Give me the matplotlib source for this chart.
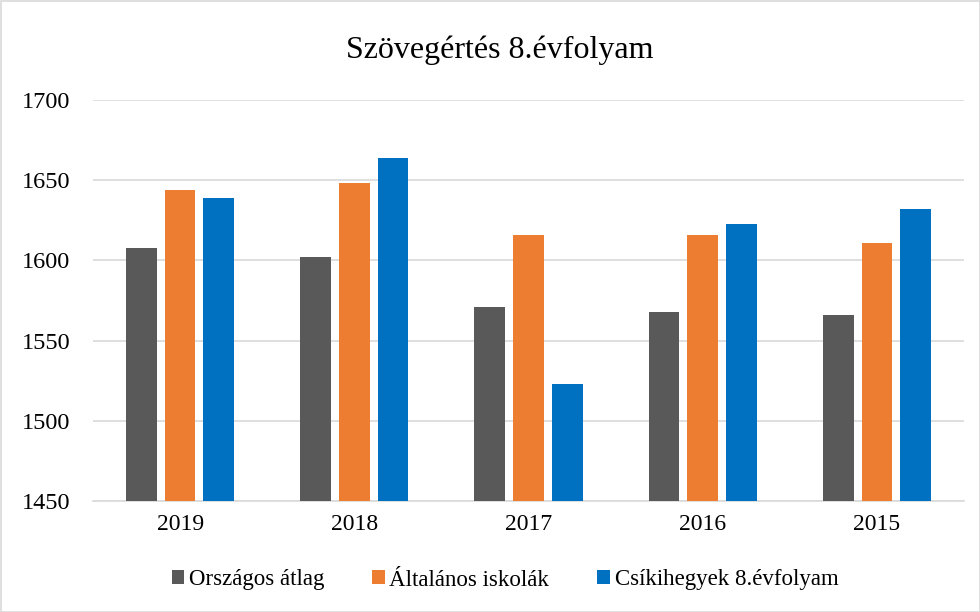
import matplotlib
matplotlib.use("Agg")
import matplotlib.pyplot as plt
import numpy as np
from matplotlib.patches import Rectangle

plt.rcParams['font.family'] = ['Liberation Serif', 'DejaVu Serif']

years = ["2019", "2018", "2017", "2016", "2015"]
orszagos = [1608, 1602, 1571, 1568, 1566]
altalanos = [1644, 1648, 1616, 1616, 1611]
csikihegyek = [1639, 1664, 1523, 1623, 1632]
series_names = ["Országos átlag", "Általános iskolák", "Csíkihegyek 8.évfolyam"]
colors = ["#595959", "#ED7D31", "#0070C0"]
yticks = [1450, 1500, 1550, 1600, 1650, 1700]

fig = plt.figure(figsize=(9.8, 6.12), dpi=100)
ax = fig.add_axes([93/980, 1 - 501/612, (964-93)/980, (501-100)/612])

x = np.arange(len(years))
w = 0.176
gap = 0.222
for i, (vals, c, name) in enumerate(zip([orszagos, altalanos, csikihegyek], colors, series_names)):
    ax.bar(x + (i - 1) * gap, np.array(vals) - 1450, bottom=1450, width=w, color=c, label=name, zorder=3)

ax.set_xlim(-0.5, len(years) - 0.5)
ax.set_ylim(1450, 1700)
ax.set_yticks(yticks)
ax.set_yticklabels([str(t) for t in yticks], fontsize=17.5)
ax.set_xticks(x)
ax.set_xticklabels(years, fontsize=17)
ax.yaxis.grid(True, color="#d9d9d9", linewidth=1.2, zorder=0)
for s in ["top", "right", "left"]:
    ax.spines[s].set_visible(False)
ax.spines["bottom"].set_color("#d9d9d9")
ax.spines["bottom"].set_linewidth(1.2)
ax.tick_params(axis="both", length=0, colors="#000000")
ax.tick_params(axis="y", pad=16.5)
ax.tick_params(axis="x", pad=9)

fig.text(500/980, 1 - 50/612, "Szövegértés 8.évfolyam", ha="center", va="center", fontsize=23)

leg = fig.legend(loc="center", bbox_to_anchor=(505/980, 1 - 580/612), ncol=3, frameon=False,
                 fontsize=16.5, handlelength=0.55, handleheight=0.55, handletextpad=0.2,
                 columnspacing=2.1)

fig.patches.append(Rectangle((0.5/980, 0.5/612), 1 - 1/980, 1 - 1/612, transform=fig.transFigure,
                             fill=False, edgecolor="#d9d9d9", linewidth=1.2))

fig.savefig("out.png", dpi=100)
